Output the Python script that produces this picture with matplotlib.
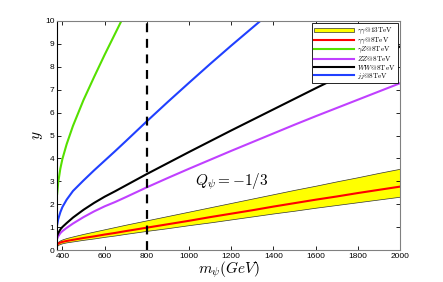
import matplotlib
matplotlib.use("Agg")
import matplotlib.pyplot as plt

plt.rcParams['mathtext.fontset'] = 'cm'

# masses (GeV)
m = [375, 380, 390, 400, 420, 450, 500, 550, 600, 650, 700, 800, 900, 1000,
     1100, 1200, 1300, 1400, 1500, 1600, 1700, 1800, 1900, 2000]

# gamma gamma @ 13 TeV band
aa13_low = [0.19, 0.23, 0.27, 0.30, 0.34, 0.38, 0.45, 0.51, 0.58, 0.64, 0.71, 0.84, 0.96, 1.09,
            1.21, 1.34, 1.47, 1.60, 1.72, 1.85, 1.97, 2.09, 2.21, 2.33]
aa13_high = [0.31, 0.37, 0.43, 0.47, 0.53, 0.60, 0.71, 0.81, 0.91, 1.01, 1.11, 1.30, 1.49, 1.68,
             1.87, 2.06, 2.25, 2.44, 2.63, 2.81, 3.00, 3.18, 3.37, 3.55]
aa8 = [0.23, 0.28, 0.33, 0.36, 0.40, 0.45, 0.53, 0.60, 0.68, 0.75, 0.83, 0.98, 1.13, 1.28,
       1.44, 1.59, 1.74, 1.90, 2.05, 2.20, 2.34, 2.49, 2.63, 2.77]
zz8 = [0.50, 0.60, 0.74, 0.83, 0.97, 1.16, 1.44, 1.69, 1.91, 2.10, 2.31, 2.74, 3.15, 3.55,
       3.94, 4.33, 4.71, 5.09, 5.47, 5.84, 6.20, 6.56, 6.92, 7.28]
ww8 = [0.62, 0.74, 0.90, 1.01, 1.18, 1.42, 1.76, 2.06, 2.33, 2.57, 2.82, 3.32, 3.80, 4.28,
       4.75, 5.22, 5.68, 6.14, 6.60, 7.06, 7.51, 7.97, 8.42, 8.88]

m_az = [375, 380, 390, 400, 420, 450, 500, 550, 600, 650, 700]
az8 = [2.45, 2.95, 3.55, 3.98, 4.62, 5.42, 6.55, 7.55, 8.52, 9.45, 10.38]

m_jj = [375, 380, 390, 400, 420, 450, 500, 550, 600, 650, 700, 800, 900, 1000, 1100, 1200, 1300, 1400]
jj8 = [1.10, 1.35, 1.65, 1.88, 2.20, 2.58, 3.04, 3.48, 3.90, 4.32, 4.75, 5.62, 6.47, 7.30,
       8.12, 8.92, 9.70, 10.48]

fig = plt.figure(figsize=(4.43, 2.82), dpi=100)
ax = fig.add_axes([0.129, 0.113, 0.774, 0.813])

ax.fill_between(m, aa13_low, aa13_high, facecolor='yellow', edgecolor='#333333',
                linewidth=0.5, label=r'$\gamma\gamma$@13TeV')
ax.plot(m, aa8, color='red', lw=1.5, label=r'$\gamma\gamma$@8TeV')
ax.plot(m_az, az8, color='#55e000', lw=1.5, label=r'$\gamma Z$@8TeV')
ax.plot(m, zz8, color='#c040ff', lw=1.5, label=r'$ZZ$@8TeV')
ax.plot(m, ww8, color='black', lw=1.5, label=r'$WW$@8TeV')
ax.plot(m_jj, jj8, color='#2040ff', lw=1.5, label=r'$jj$@8TeV')

ax.axvline(800, color='black', lw=1.6, ls=(0, (4, 3)))

ax.text(1200, 3.0, r'$Q_\psi=-1/3$', fontsize=11, ha='center', va='center')

ax.set_xlim(375, 2000)
ax.set_ylim(0, 10)
ax.set_xticks(range(400, 2001, 200))
ax.set_yticks(range(0, 11))
ax.tick_params(direction='in', top=True, right=True, length=3, width=0.6,
               labelsize=6, pad=2)
for lab in ax.get_xticklabels() + ax.get_yticklabels():
    lab.set_fontfamily('Liberation Sans')

for side in ['top', 'right', 'bottom']:
    ax.spines[side].set_color('#808080')
ax.spines['left'].set_color('black')
for s in ax.spines.values():
    s.set_linewidth(0.8)

ax.set_xlabel(r'$m_\psi(GeV)$', fontsize=11, labelpad=0)
ax.set_ylabel(r'$y$', fontsize=11, labelpad=0)

leg = ax.legend(loc='upper right', handlelength=5.5, handleheight=0.5,
                labelspacing=-0.12, borderpad=0.3, borderaxespad=0.35,
                handletextpad=0.4,
                fancybox=False, framealpha=1, edgecolor='black',
                prop={'family': 'cmr10', 'size': 5.2})
leg.get_frame().set_linewidth(0.6)

fig.savefig('out.png', dpi=100)
